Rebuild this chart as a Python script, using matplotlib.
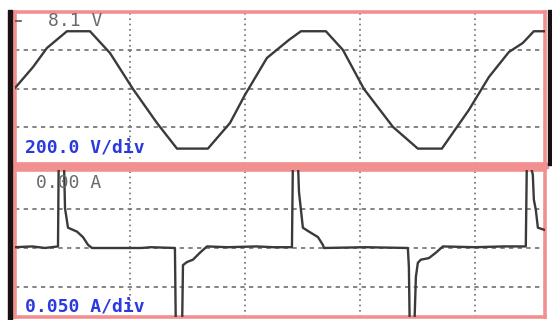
import matplotlib
matplotlib.use("Agg")
from matplotlib import pyplot as plt
from matplotlib.patches import Rectangle

# Tension (trace du haut) : temps en ms, valeur en V
t_tension = [0.0, 1.57, 2.78, 4.52, 6.52, 8.26, 10.26, 12.35, 14.09, 16.78,
             18.70, 20.0, 21.91, 23.83, 24.87, 27.04, 28.52, 30.35, 32.87,
             35.04, 37.13, 39.48, 41.22, 42.96, 44.17, 45.13, 46.1]
v_tension = [5, 114, 213, 300, 300, 187, 0, -177, -310, -310,
             -177, -31, 161, 255, 300, 300, 203, 0, -197,
             -310, -310, -109, 62, 192, 239, 300, 300]

# Courant (trace du bas) : temps en ms, valeur en A
t_courant = [0.0, 1.5, 2.6, 3.74, 3.8, 4.26, 4.35, 4.61, 5.39, 5.91, 6.35, 6.70,
             11.0, 11.8, 13.91, 14.0, 14.52, 14.61, 14.96, 15.48, 16.09, 16.70,
             18.5, 21.0, 22.5, 24.09, 24.17, 24.61, 24.70, 24.87, 25.04, 25.57,
             26.35, 26.78, 26.87, 30.5, 34.17, 34.26, 34.35, 34.70, 34.87, 35.04,
             35.30, 36.0, 36.61, 37.22, 40.0, 42.5, 44.43, 44.52, 44.78, 45.04,
             45.13, 45.30, 45.48, 46.1]
i_courant = [0.001, 0.002, 0.0, 0.002, 0.11, 0.11, 0.051, 0.026, 0.021, 0.014, 0.004, 0.0,
             0.0, 0.001, 0.0, -0.118, -0.118, -0.022, -0.018, -0.015, -0.006, 0.002,
             0.001, 0.002, 0.001, 0.001, 0.11, 0.11, 0.072, 0.049, 0.026, 0.021,
             0.014, 0.004, 0.0, 0.001, 0.0, -0.024, -0.118, -0.118, -0.037, -0.019,
             -0.015, -0.013, -0.006, 0.002, 0.001, 0.002, 0.002, 0.11, 0.11, 0.094,
             0.062, 0.049, 0.026, 0.023]

# Graduations de l'écran
grille_t = [10, 20, 30, 40]
grille_v = [-200, 0, 200]
grille_i = [-0.05, 0, 0.05]
niveau_trigger = 353

couleur_trace = "#3a3a3a"
couleur_cadre = "#f29090"
couleur_grille = "#707070"
couleur_bleu = "#2a3ae0"

fig = plt.figure(figsize=(5.52, 3.20), dpi=100)
fig.patch.set_facecolor("white")

ax1 = fig.add_axes([15 / 552, 1 - 164 / 320, 530 / 552, 152 / 320])
ax2 = fig.add_axes([15 / 552, 1 - 317 / 320, 530 / 552, 147 / 320])


def mise_en_forme(ax, grille_y):
    for x in grille_t:
        ax.axvline(x, color=couleur_grille, lw=1.2, dashes=(1, 2.2), zorder=1)
    for y in grille_y:
        ax.axhline(y, color=couleur_grille, lw=1.2, dashes=(2.6, 2.6), zorder=1)
    ax.set_xticks([])
    ax.set_yticks([])
    for s in ax.spines.values():
        s.set_color(couleur_cadre)
        s.set_linewidth(2.6)


ax1.plot(t_tension, v_tension, color=couleur_trace, lw=1.7, zorder=3)
ax1.set_xlim(0, 46.1)
ax1.set_ylim(-390, 400)
mise_en_forme(ax1, grille_v)
ax1.plot([0.0, 0.012], [niveau_trigger, niveau_trigger], color="#555555", lw=1.2,
         transform=ax1.get_yaxis_transform(), zorder=3)
ax1.text(0.062, 0.94, "8.1 V", transform=ax1.transAxes, color="#6a6a6a",
         family="DejaVu Sans Mono", fontsize=13, va="center", ha="left")
ax1.text(0.019, 0.10, "200.0 V/div", transform=ax1.transAxes, color=couleur_bleu,
         family="DejaVu Sans Mono", fontweight="bold", fontsize=13, va="center", ha="left")

ax2.plot(t_courant, i_courant, color=couleur_trace, lw=1.7, zorder=3)
ax2.set_xlim(0, 46.1)
ax2.set_ylim(-0.0885, 0.1)
mise_en_forme(ax2, grille_i)
ax2.text(0.04, 0.91, "0.00 A", transform=ax2.transAxes, color="#6a6a6a",
         family="DejaVu Sans Mono", fontsize=13, va="center", ha="left")
ax2.text(0.019, 0.068, "0.050 A/div", transform=ax2.transAxes, color=couleur_bleu,
         family="DejaVu Sans Mono", fontweight="bold", fontsize=13, va="center", ha="left")

# Bandeau entre les deux écrans et bords noirs
fig.patches.append(Rectangle((13 / 552, 1 - 168 / 320), 535 / 552, 5 / 320,
                             transform=fig.transFigure, color=couleur_cadre, zorder=5))
fig.patches.append(Rectangle((8 / 552, 0), 3.5 / 552, 1 - 10 / 320,
                             transform=fig.transFigure, color="#1a1010", zorder=5))
fig.patches.append(Rectangle((548 / 552, 1 - 165 / 320), 3.5 / 552, 155 / 320,
                             transform=fig.transFigure, color="#1a1010", zorder=5))

fig.savefig("out.png", dpi=100)
